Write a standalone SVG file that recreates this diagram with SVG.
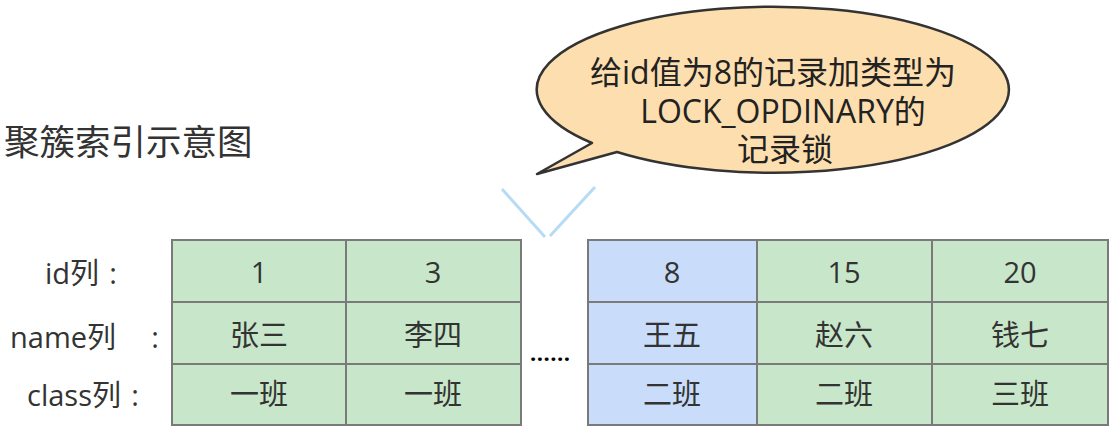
<svg xmlns="http://www.w3.org/2000/svg" width="1114" height="433" viewBox="0 0 1114 433">
<style>
text{font-family:"Open Sans","Noto Sans CJK SC",sans-serif;fill:#333;}
.cell{stroke:#7a7a7a;stroke-width:2;}
.g{fill:#c8e6c9;}
.b{fill:#c9ddfa;}
.ct{font-size:29px;text-anchor:middle;}
.lbl{font-size:29px;}
.bt{font-size:32px;text-anchor:middle;fill:#222;}
.conn{stroke:#b6dcf5;stroke-width:3;fill:none;}
</style>
<rect width="1114" height="433" fill="#fff"/>
<text x="4" y="155" style="font-size:35.5px">聚簇索引示意图</text>
<g id="bubble">
<path d="M617,152 L537,174 L592,143 A236,83 0 1 1 617,152 Z" fill="#fddeae" stroke="#333" stroke-width="2.5" stroke-linejoin="round"/>
<text class="bt"><tspan x="773" y="84">给id值为8的记录加类型为</tspan><tspan x="783" y="123">LOCK_OPDINARY的</tspan><tspan x="785" y="161">记录锁</tspan></text>
</g>
<g id="connectors">
<line class="conn" x1="502" y1="189" x2="545" y2="237"/>
<line class="conn" x1="595" y1="187" x2="550" y2="236"/>
</g>
<g id="labels">
<text class="lbl" x="45" y="284">id列</text>
<text class="lbl" x="113" y="284" text-anchor="middle">:</text>
<text class="lbl" x="10" y="348">name列</text>
<text class="lbl" x="155" y="348" text-anchor="middle">:</text>
<text class="lbl" x="27" y="406">class列</text>
<text class="lbl" x="135" y="406" text-anchor="middle">:</text>
</g>
<g id="table-left">
<rect class="cell g" x="172" y="240" width="174" height="62"/>
<rect class="cell g" x="346" y="240" width="175" height="62"/>
<rect class="cell g" x="172" y="302" width="174" height="62"/>
<rect class="cell g" x="346" y="302" width="175" height="62"/>
<rect class="cell g" x="172" y="364" width="174" height="61"/>
<rect class="cell g" x="346" y="364" width="175" height="61"/>
<text class="ct" x="259" y="283">1</text>
<text class="ct" x="433" y="283">3</text>
<text class="ct" x="259" y="346">张三</text>
<text class="ct" x="433" y="346">李四</text>
<text class="ct" x="259" y="405">一班</text>
<text class="ct" x="433" y="405">一班</text>
</g>
<text x="530" y="361" style="font-size:22px;fill:#000;font-weight:bold;letter-spacing:0.5px">......</text>
<g id="table-right">
<rect class="cell b" x="588" y="240" width="169" height="62"/>
<rect class="cell g" x="757" y="240" width="175" height="62"/>
<rect class="cell g" x="932" y="240" width="176" height="62"/>
<rect class="cell b" x="588" y="302" width="169" height="62"/>
<rect class="cell g" x="757" y="302" width="175" height="62"/>
<rect class="cell g" x="932" y="302" width="176" height="62"/>
<rect class="cell b" x="588" y="364" width="169" height="61"/>
<rect class="cell g" x="757" y="364" width="175" height="61"/>
<rect class="cell g" x="932" y="364" width="176" height="61"/>
<text class="ct" x="672" y="283">8</text>
<text class="ct" x="844" y="283">15</text>
<text class="ct" x="1020" y="283">20</text>
<text class="ct" x="672" y="346">王五</text>
<text class="ct" x="844" y="346">赵六</text>
<text class="ct" x="1020" y="346">钱七</text>
<text class="ct" x="672" y="405">二班</text>
<text class="ct" x="844" y="405">二班</text>
<text class="ct" x="1020" y="405">三班</text>
</g>
</svg>
